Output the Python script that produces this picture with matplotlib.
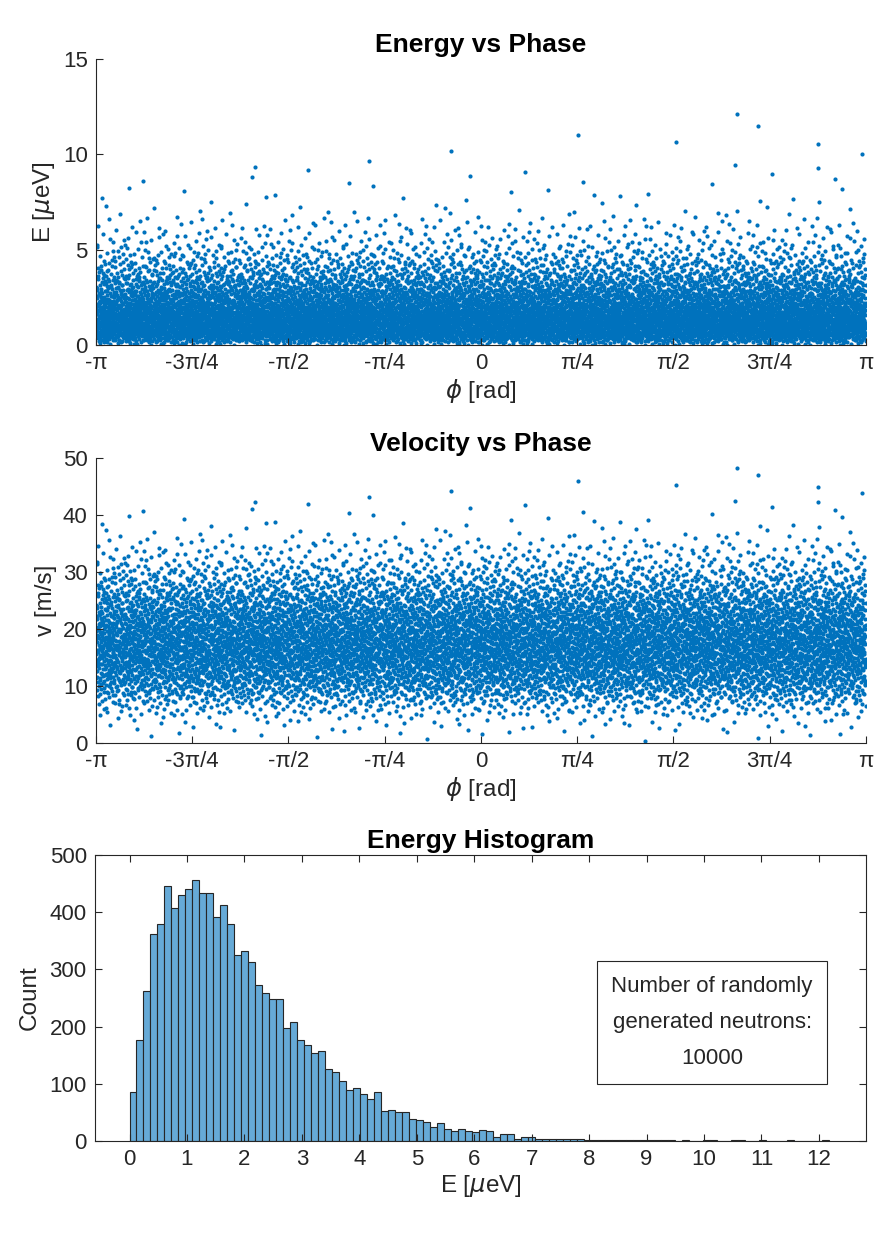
import numpy as np
import matplotlib.pyplot as plt

plt.rcParams['font.family'] = ['Liberation Sans', 'DejaVu Sans']
plt.rcParams['mathtext.fontset'] = 'dejavusans'

# histogram counts (100 bins from 0 to ~12.17 ueV)
e_max = 12.17
counts = [85, 176, 263, 362, 380, 445, 408, 430, 441, 457,
          433, 433, 391, 412, 380, 325, 332, 313, 272, 258,
          248, 248, 197, 208, 176, 167, 154, 157, 126, 121,
          105, 90, 92, 82, 73, 85, 53, 55, 51, 50,
          39, 36, 34, 24, 32, 21, 18, 21, 17, 15,
          19, 18, 7, 12, 12, 4, 7, 7, 3, 4,
          3, 3, 3, 3, 3, 2, 2, 2, 1, 2,
          2, 1, 2, 1, 1, 1, 2, 1, 0, 1,
          0, 0, 1, 1, 0, 0, 1, 1, 0, 0,
          1, 0, 0, 0, 1, 0, 0, 0, 0, 1]

# phases (in units of pi) of the highest-energy points
outlier_phase = [0.665, 0.719, 0.252, 0.506, 0.875, -0.078, 0.99, -0.29, 0.66, -0.587, 0.875]

phase_ticks = [-1, -0.75, -0.5, -0.25, 0, 0.25, 0.5, 0.75, 1]
phase_labels = ['-\u03c0', '-3\u03c0/4', '-\u03c0/2', '-\u03c0/4', '0',
                '\u03c0/4', '\u03c0/2', '3\u03c0/4', '\u03c0']

box_text = 'Number of randomly\ngenerated neutrons:\n10000'

# physical constants for v = sqrt(2E/m)
q_e = 1.602176634e-19
m_n = 1.67492750e-27

blue = '#0072BD'
axis_col = '#262626'
tick_fs = 16
label_fs = 17.5
title_fs = 19


def halton(n, base):
    # radical inverse of 1..n in the given base
    out = np.zeros(n)
    idx = np.arange(1, n + 1)
    f = 1.0 / base
    while np.any(idx > 0):
        out += f * (idx % base)
        idx //= base
        f /= base
    return out


# expand the histogram into energies (evenly inside each bin)
edges = np.linspace(0, e_max, len(counts) + 1)
energies = []
for k, n in enumerate(counts):
    lo, hi = edges[k], edges[k + 1]
    for j in range(n):
        energies.append(lo + (j + 0.5) / n * (hi - lo))
energies = np.sort(np.array(energies))
N = len(energies)

# spread phases uniformly with a Halton sequence
u = halton(N, 3)
w = halton(N, 2)
E = energies[np.argsort(np.argsort(w))]
phase = -np.pi + 2 * np.pi * u
top = np.argsort(E)[::-1][:len(outlier_phase)]
phase[top] = np.array(outlier_phase) * np.pi

v = np.sqrt(2 * E * 1e-6 * q_e / m_n)

fig = plt.figure(figsize=(8.84, 12.47), dpi=100)


def style_scatter_axes(ax):
    for s in ['top', 'right']:
        ax.spines[s].set_visible(False)
    for s in ['left', 'bottom']:
        ax.spines[s].set_color(axis_col)
        ax.spines[s].set_linewidth(0.8)
    ax.tick_params(direction='in', length=5, width=0.8, colors=axis_col,
                   labelsize=tick_fs, pad=6)
    ax.set_xlim(-np.pi, np.pi)
    ax.set_xticks(np.array(phase_ticks) * np.pi)
    ax.set_xticklabels(phase_labels)
    ax.set_xlabel('$\\phi$ [rad]', fontsize=label_fs, color=axis_col, labelpad=2)


ax1 = fig.add_axes([0.1086, 0.7233, 0.8710, 0.2294])
ax1.scatter(phase, E, s=9, color=blue, linewidths=0)
style_scatter_axes(ax1)
ax1.set_ylim(0, 15)
ax1.set_yticks([0, 5, 10, 15])
ax1.set_ylabel('E [$\\mu$eV]', fontsize=label_fs, color=axis_col, labelpad=4)
ax1.set_title('Energy vs Phase', fontsize=title_fs, fontweight='bold', pad=5)

ax2 = fig.add_axes([0.1086, 0.4044, 0.8710, 0.2286])
ax2.scatter(phase, v, s=9, color=blue, linewidths=0)
style_scatter_axes(ax2)
ax2.set_ylim(0, 50)
ax2.set_yticks([0, 10, 20, 30, 40, 50])
ax2.set_ylabel('v [m/s]', fontsize=label_fs, color=axis_col, labelpad=4)
ax2.set_title('Velocity vs Phase', fontsize=title_fs, fontweight='bold', pad=5)

ax3 = fig.add_axes([0.1075, 0.0850, 0.8722, 0.2294])
ax3.hist(E, bins=edges, facecolor='#66AAD7', edgecolor=axis_col, linewidth=0.8)
for s in ax3.spines.values():
    s.set_color(axis_col)
    s.set_linewidth(0.8)
ax3.tick_params(direction='in', length=5, width=0.8, colors=axis_col,
                labelsize=tick_fs, pad=6, top=True, right=True)
ax3.set_xlim(-0.6, 12.82)
ax3.set_ylim(0, 500)
ax3.set_xticks(range(0, 13))
ax3.set_yticks(range(0, 501, 100))
ax3.set_xlabel('E [$\\mu$eV]', fontsize=label_fs, color=axis_col, labelpad=2)
ax3.set_ylabel('Count', fontsize=label_fs, color=axis_col, labelpad=6)
ax3.set_title('Energy Histogram', fontsize=title_fs, fontweight='bold', pad=5)
ax3.text(10.14, 207, box_text, ha='center', va='center', fontsize=tick_fs,
         color=axis_col, linespacing=1.95,
         bbox=dict(boxstyle='square,pad=0.65', facecolor='white',
                   edgecolor=axis_col, linewidth=0.8))

plt.savefig('out.png', dpi=100)
